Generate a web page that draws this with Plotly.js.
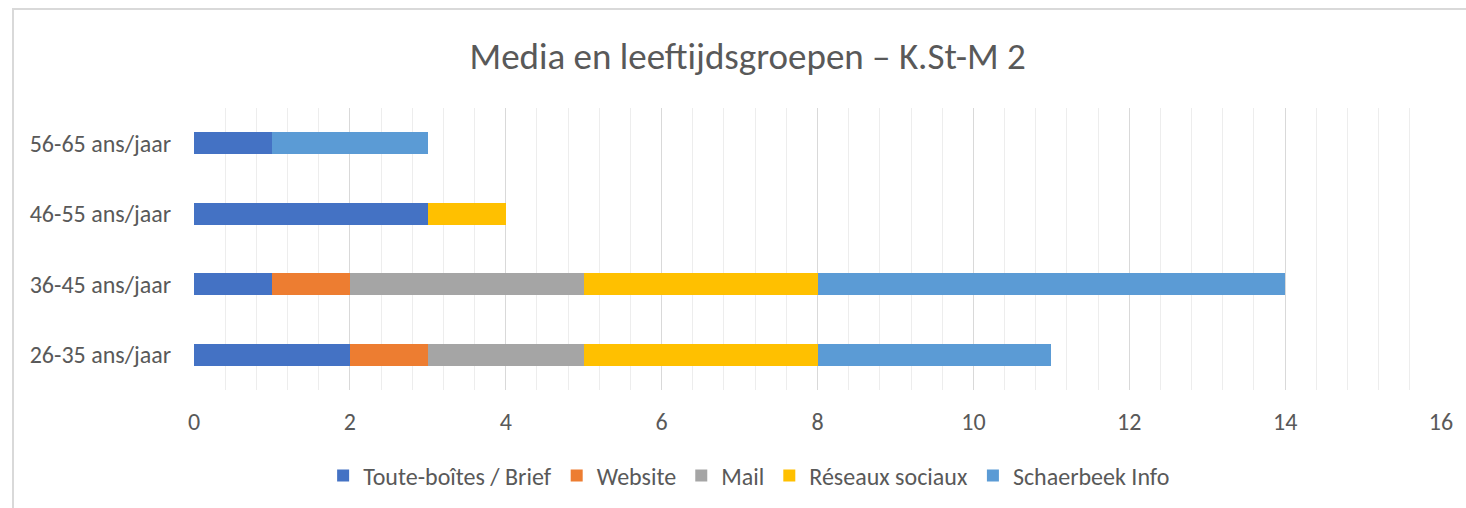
<!DOCTYPE html>
<html>
<head>
<meta charset="utf-8">
<script src="https://cdn.plot.ly/plotly-3.0.1.min.js"></script>
<style>
  html, body { margin: 0; padding: 0; background: #fff; }
  #wrap { position: relative; width: 1466px; height: 508px; }
  #frame { position: absolute; left: 12px; top: 8px; right: 0; bottom: 0;
           border-left: 2px solid #d9d9d9; border-top: 2px solid #d9d9d9; pointer-events: none; z-index: 5; }
  #chart { position: absolute; left: 0; top: 0; width: 1466px; height: 508px; }
</style>
</head>
<body>
<div id="wrap">
  <div id="chart"></div>
  <div id="frame"></div>
</div>
<script>
const categories = ["26-35 ans/jaar", "36-45 ans/jaar", "46-55 ans/jaar", "56-65 ans/jaar"];
const seriesNames = ["Toute-boîtes / Brief", "Website", "Mail", "Réseaux sociaux", "Schaerbeek Info"];
const toutesBoites = [2, 1, 3, 1];
const website      = [1, 1, 0, 0];
const mail         = [2, 3, 0, 0];
const reseaux      = [3, 3, 1, 0];
const schaerbeek   = [3, 6, 0, 2];
const xTicks = [0, 2, 4, 6, 8, 10, 12, 14, 16];

const colors = ["#4472C4", "#ED7D31", "#A5A5A5", "#FFC000", "#5B9BD5"];
const values = [toutesBoites, website, mail, reseaux, schaerbeek];
const font = "Carlito, 'Open Sans', sans-serif";

const traces = values.map((v, i) => ({
  type: "bar",
  orientation: "h",
  name: seriesNames[i],
  y: categories,
  x: v,
  marker: { color: colors[i], line: { width: 0 } },
  hoverinfo: "x+y+name"
}));

const layout = {
  width: 1466, height: 508,
  barmode: "stack",
  bargap: 0.69,
  paper_bgcolor: "rgba(0,0,0,0)",
  plot_bgcolor: "rgba(0,0,0,0)",
  margin: { l: 194, r: 25, t: 108, b: 118 },
  font: { family: font, color: "#595959", size: 24 },
  title: {
    text: "Media en leeftijdsgroepen – K.St-M 2",
    font: { family: font, size: 37, color: "#595959" },
    xref: "container", x: 0.51, xanchor: "center",
    yref: "container", y: 0.89, yanchor: "middle"
  },
  xaxis: {
    range: [0, 16],
    tickvals: xTicks,
    ticktext: xTicks.map(String),
    showgrid: true, gridcolor: "#D9D9D9", gridwidth: 1,
    zeroline: false, showline: false, ticks: "",
    ticklabelstandoff: 15,
    tickfont: { family: font, size: 24, color: "#595959" },
    minor: { dtick: 0.4, tick0: 0, showgrid: true, gridcolor: "#EDEDED", gridwidth: 1, ticks: "" },
    fixedrange: true
  },
  yaxis: {
    type: "category",
    categoryorder: "array", categoryarray: categories,
    showgrid: false, zeroline: false, showline: false, ticks: "",
    ticklabelstandoff: 22,
    tickfont: { family: font, size: 24, color: "#595959" },
    fixedrange: true
  },
  showlegend: true,
  legend: {
    orientation: "h",
    xref: "container", x: 0.511, xanchor: "center",
    yref: "container", y: 0.063, yanchor: "middle",
    traceorder: "normal",
    font: { family: font, size: 24, color: "#595959" },
    itemwidth: 30
  }
};

Plotly.newPlot("chart", traces, layout, { displayModeBar: false, staticPlot: true });
</script>
</body>
</html>
